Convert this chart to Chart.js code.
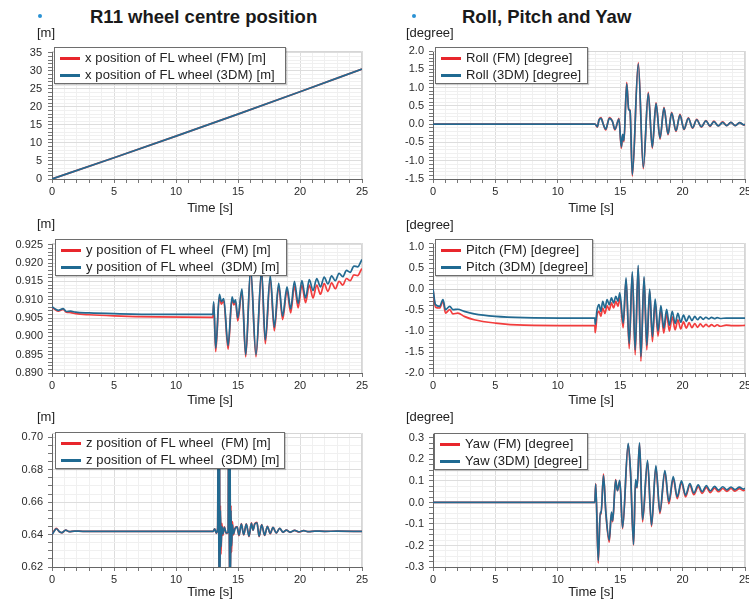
<!DOCTYPE html>
<html>
<head>
<meta charset="utf-8">
<title>R11 wheel centre position</title>
<script src="https://cdn.jsdelivr.net/npm/chart.js"></script>
<style>
  body { margin: 0; background: #fff; font-family: "Liberation Sans", Arial, sans-serif; color: #222; }
  #page { position: relative; width: 749px; height: 603px; overflow: hidden; }
  canvas { position: absolute; }
  .title { position: absolute; top: 6px; line-height: 22px; font-size: 18.5px; font-weight: bold; color: #1a1a1a; white-space: nowrap; }
  .dot { position: absolute; width: 4px; height: 4px; border-radius: 2px; background: #2a92d4; }
  .unit, .time { position: absolute; font-size: 13px; line-height: 16px; white-space: nowrap; color: #222; }
  .time { width: 120px; text-align: center; }
  .legend { position: absolute; box-sizing: border-box; height: 37px; padding: 1px 0; background: #fff; border: 1px solid #6e6e6e; box-shadow: 1px 1px 1px rgba(0,0,0,0.2); font-size: 13px; letter-spacing: 0.1px; color: #222; }
  .legend div { height: 17px; line-height: 17px; white-space: pre; }
  .legend span { display: inline-block; width: 20px; height: 2.5px; margin: 0 5px 0 5px; vertical-align: middle; }
</style>
</head>
<body>
<div id="page">
  <div class="dot" style="left:38px;top:14px"></div>
  <div class="title" style="left:90px">R11 wheel centre position</div>
  <div class="dot" style="left:412px;top:14px"></div>
  <div class="title" style="left:462px">Roll, Pitch and Yaw</div>

  <canvas id="xChart" width="375" height="164" style="left:0;top:39px"></canvas>
  <canvas id="rollChart" width="374" height="164" style="left:375px;top:39px"></canvas>
  <canvas id="yChart" width="375" height="166" style="left:0;top:231px"></canvas>
  <canvas id="pitchChart" width="374" height="166" style="left:375px;top:231px"></canvas>
  <canvas id="zChart" width="375" height="170" style="left:0;top:421px"></canvas>
  <canvas id="yawChart" width="374" height="170" style="left:375px;top:421px"></canvas>

  <div class="unit" style="left:37px;top:25px">[m]</div>
  <div class="unit" style="left:406px;top:25px">[degree]</div>
  <div class="unit" style="left:37px;top:216px">[m]</div>
  <div class="unit" style="left:406px;top:217px">[degree]</div>
  <div class="unit" style="left:37px;top:409px">[m]</div>
  <div class="unit" style="left:406px;top:409px">[degree]</div>

  <div class="time" style="left:150px;top:200px">Time [s]</div>
  <div class="time" style="left:531px;top:200px">Time [s]</div>
  <div class="time" style="left:150px;top:392px">Time [s]</div>
  <div class="time" style="left:531px;top:392px">Time [s]</div>
  <div class="time" style="left:150px;top:584px">Time [s]</div>
  <div class="time" style="left:531px;top:584px">Time [s]</div>

  <div class="legend" id="xLegend" style="left:54px;top:47px;width:232px"></div>
  <div class="legend" id="rollLegend" style="left:435px;top:47px;width:153px"></div>
  <div class="legend" id="yLegend" style="left:55px;top:239px;width:232px"></div>
  <div class="legend" id="pitchLegend" style="left:435px;top:239px;width:158px"></div>
  <div class="legend" id="zLegend" style="left:55px;top:432px;width:230px"></div>
  <div class="legend" id="yawLegend" style="left:434px;top:433px;width:154px"></div>
</div>

<script>
//series names

const xNames = ["x position of FL wheel (FM) [m]", "x position of FL wheel (3DM) [m]"];
const yNames = ["y position of FL wheel  (FM) [m]", "y position of FL wheel  (3DM) [m]"];
const zNames = ["z position of FL wheel  (FM) [m]", "z position of FL wheel  (3DM) [m]"];
const rollNames = ["Roll (FM) [degree]", "Roll (3DM) [degree]"];
const pitchNames = ["Pitch (FM) [degree]", "Pitch (3DM) [degree]"];
const yawNames = ["Yaw (FM) [degree]", "Yaw (3DM) [degree]"];

//x position of FL wheel

const xTime = [0, 5, 10, 15, 20, 25];
const xFM = [0, 5.9, 11.9, 18.0, 24.2, 30.5];
const x3DM = [0, 5.9, 11.9, 18.0, 24.2, 30.5];

//y position of FL wheel

const yTime = [0, 0.3, 0.5, 0.9, 1.15, 1.5, 1.9, 3, 5, 8.5, 12.98,
  13.04, 13.2, 13.5, 13.66, 13.85, 14.2, 14.52, 14.66, 14.8, 14.98,
  15.32, 15.62, 16.02, 16.45, 16.9, 17.2, 17.6, 17.93, 18.28, 18.6,
  18.95, 19.25, 19.55, 19.85, 20.15, 20.45, 20.75, 21.05, 21.35, 21.65,
  21.95, 22.25, 22.55, 22.85, 23.15, 23.45, 23.75, 24.05, 24.35, 24.65,
  24.95, 25];
const yFM = [0.9080, 0.9072, 0.9069, 0.9074, 0.9066, 0.9065, 0.9062, 0.9059, 0.9056, 0.9053, 0.9052,
  0.9090, 0.8958, 0.9108, 0.9088, 0.9097, 0.8965, 0.9102, 0.9086, 0.9094, 0.9042,
  0.9124, 0.8944, 0.9180, 0.8944, 0.9174, 0.8980, 0.9158, 0.9015, 0.9137, 0.9046,
  0.9126, 0.9064, 0.9138, 0.9078, 0.9140, 0.9092, 0.9140, 0.9105, 0.9140, 0.9115,
  0.9144, 0.9123, 0.9146, 0.9130, 0.9150, 0.9140, 0.9158, 0.9152, 0.9168, 0.9166,
  0.9183, 0.9185];
const y3DM = [0.9081, 0.9074, 0.9071, 0.9076, 0.9068, 0.9069, 0.9066, 0.9064, 0.9062, 0.9060, 0.9060,
  0.9094, 0.8968, 0.9115, 0.9095, 0.9103, 0.8975, 0.9108, 0.9092, 0.9100, 0.9050,
  0.9130, 0.8950, 0.9185, 0.8950, 0.9180, 0.8990, 0.9165, 0.9025, 0.9145, 0.9055,
  0.9135, 0.9075, 0.9150, 0.9090, 0.9152, 0.9105, 0.9155, 0.9125, 0.9158, 0.9135,
  0.9162, 0.9143, 0.9165, 0.9152, 0.9172, 0.9163, 0.9180, 0.9175, 0.9192, 0.9190,
  0.9207, 0.9210];

//z position of FL wheel

const zTime = [0, 0.15, 0.35, 0.6, 0.8, 1.1, 1.4, 1.8, 2.5,
  13.0, 13.12, 13.25, 13.36, 13.42, 13.46, 13.50, 13.54, 13.58, 13.63, 13.70, 13.78,
  13.9, 14.05, 14.2, 14.27, 14.31, 14.35, 14.39, 14.43, 14.48, 14.55, 14.63,
  14.75, 14.92, 15.08, 15.27, 15.46, 15.67, 15.89, 16.08, 16.21, 16.35,
  16.53, 16.7, 16.91, 17.15, 17.37, 17.6, 17.82, 18.09, 18.36, 18.63,
  18.9, 19.2, 19.57, 19.9, 20.3, 20.7, 21.2, 22, 23, 25];
const zFM = [0.6400, 0.6420, 0.6438, 0.6417, 0.6411, 0.6428, 0.6418, 0.6422, 0.6420,
  0.6420, 0.6436, 0.6408, 0.6442, 0.7500, 0.6050, 0.7100, 0.6150, 0.6580, 0.6280, 0.6470, 0.6395,
  0.6448, 0.6408, 0.6415, 0.7500, 0.6050, 0.7100, 0.6150, 0.6580, 0.6290, 0.6480, 0.6398,
  0.6438, 0.6450, 0.6394, 0.6468, 0.6398, 0.6467, 0.6388, 0.6472, 0.6427, 0.6467,
  0.6476, 0.6388, 0.6461, 0.6395, 0.6451, 0.6405, 0.6445, 0.6409, 0.6439, 0.6414,
  0.6428, 0.6414, 0.6426, 0.6416, 0.6424, 0.6418, 0.6422, 0.6420, 0.6421, 0.6420];
const z3DM = [0.6400, 0.6418, 0.6436, 0.6418, 0.6412, 0.6428, 0.6418, 0.6422, 0.6420,
  0.6420, 0.6435, 0.6410, 0.6440, 0.7600, 0.6000, 0.7200, 0.6100, 0.6550, 0.6325, 0.6450, 0.6405,
  0.6445, 0.6410, 0.6415, 0.7600, 0.6000, 0.7200, 0.6100, 0.6550, 0.6330, 0.6460, 0.6405,
  0.6435, 0.6448, 0.6397, 0.6465, 0.6400, 0.6465, 0.6390, 0.6470, 0.6428, 0.6465,
  0.6473, 0.6390, 0.6460, 0.6397, 0.6450, 0.6407, 0.6444, 0.6410, 0.6438, 0.6415,
  0.6428, 0.6415, 0.6426, 0.6417, 0.6424, 0.6418, 0.6422, 0.6420, 0.6421, 0.6420];

//Roll

const rollTime = [0, 12.98, 13.17, 13.30, 13.46, 13.65, 13.84, 14.13, 14.37, 14.58,
  14.90, 15.09, 15.20, 15.30, 15.52, 15.68, 15.79, 15.97, 16.45, 16.85,
  17.25, 17.57, 17.87, 18.19, 18.51, 18.83, 19.12, 19.47, 19.79, 20.11,
  20.46, 20.80, 21.13, 21.50, 21.87, 22.19, 22.51, 22.86, 23.21, 23.53,
  23.87, 24.22, 24.57, 24.92, 25];
const rollFM = [0, 0, -0.08, 0.12, 0.18, -0.01, -0.16, 0.18, 0.08, -0.16,
  0.16, -0.66, -0.29, -0.48, 1.14, 0.41, 0.37, -1.42, 1.68, -1.22,
  0.87, -0.66, 0.58, -0.41, 0.46, -0.29, 0.32, -0.20, 0.27, -0.15,
  0.17, -0.11, 0.13, -0.08, 0.10, -0.06, 0.08, -0.05, 0.06, -0.04,
  0.05, -0.04, 0.04, -0.03, 0];
const roll3DM = [0, 0, -0.07, 0.11, 0.16, -0.01, -0.14, 0.16, 0.08, -0.14,
  0.14, -0.62, -0.28, -0.45, 1.10, 0.40, 0.36, -1.38, 1.65, -1.18,
  0.84, -0.63, 0.56, -0.38, 0.44, -0.27, 0.30, -0.18, 0.25, -0.14,
  0.16, -0.10, 0.12, -0.07, 0.09, -0.05, 0.07, -0.05, 0.05, -0.04,
  0.05, -0.04, 0.04, -0.02, 0];

//Pitch

const pitchTime = [0, 0.2, 0.53, 0.8, 1.0, 1.34, 1.6, 2.0, 2.5, 3.3, 5, 7.3, 11.4, 12.97,
  13.0, 13.15, 13.3, 13.45, 13.6, 13.78, 13.95, 14.12, 14.3, 14.47, 14.65, 14.82, 14.97,
  15.24, 15.47, 15.72, 15.97, 16.2, 16.44, 16.66, 16.91, 17.13, 17.36,
  17.58, 17.8, 18.03, 18.26, 18.49, 18.72, 18.94, 19.17, 19.4, 19.62,
  19.85, 20.07, 20.3, 20.52, 20.75, 20.97, 21.2, 21.42, 21.65, 21.87,
  22.1, 22.32, 22.55, 22.77, 23.0, 23.5, 24, 24.5, 25];
const pitchFM = [0, -0.43, -0.45, -0.29, -0.57, -0.49, -0.59, -0.57, -0.65, -0.73, -0.81, -0.86, -0.87, -0.87,
  -1.04, -0.61, -0.53, -0.65, -0.45, -0.58, -0.39, -0.50, -0.33, -0.45, -0.29, -0.41, -0.21,
  -0.92, 0.23, -1.42, 0.37, -1.57, 0.52, -1.72, 0.26, -1.45, -0.05,
  -1.25, -0.31, -1.12, -0.48, -1.05, -0.59, -1.0, -0.66, -0.97, -0.73,
  -0.95, -0.78, -0.93, -0.80, -0.92, -0.82, -0.91, -0.83, -0.90, -0.84,
  -0.895, -0.845, -0.89, -0.85, -0.885, -0.86, -0.87, -0.87, -0.865];
const pitch3DM = [0, -0.37, -0.41, -0.25, -0.49, -0.41, -0.49, -0.48, -0.53, -0.59, -0.65, -0.68, -0.69, -0.69,
  -0.84, -0.49, -0.37, -0.53, -0.29, -0.45, -0.25, -0.37, -0.21, -0.33, -0.17, -0.29, -0.09,
  -0.81, 0.27, -1.30, 0.41, -1.45, 0.57, -1.61, 0.30, -1.34, 0.0,
  -1.13, -0.24, -1.0, -0.39, -0.93, -0.48, -0.86, -0.53, -0.82, -0.58,
  -0.79, -0.62, -0.77, -0.64, -0.75, -0.65, -0.73, -0.66, -0.72, -0.67,
  -0.71, -0.675, -0.705, -0.68, -0.70, -0.69, -0.69, -0.69, -0.69];

//Yaw

const yawTime = [0, 12.97, 13.04, 13.24, 13.40, 13.47, 13.66, 13.85, 14.12, 14.30,
  14.40, 14.63, 14.78, 14.97, 15.19, 15.64, 15.83, 16.07, 16.23, 16.35,
  16.55, 16.79, 17.19, 17.51, 17.86, 18.18, 18.58, 18.90, 19.25, 19.57,
  19.91, 20.24, 20.58, 20.90, 21.25, 21.57, 21.90, 22.22, 22.56, 22.88,
  23.22, 23.55, 23.88, 24.20, 24.55, 24.87, 25];
const yawFM = [0, 0, 0.088, -0.282, -0.048, -0.055, 0.132, -0.050, -0.185, -0.050,
  -0.090, 0.106, 0.055, 0.100, -0.122, 0.270, 0.135, -0.198, 0.100, 0.068,
  0.272, -0.090, 0.188, -0.112, 0.165, -0.052, 0.140, -0.006, 0.112, 0.018,
  0.093, 0.026, 0.080, 0.036, 0.074, 0.042, 0.070, 0.046, 0.067, 0.050,
  0.065, 0.052, 0.065, 0.053, 0.064, 0.055, 0.058];
const yaw3DM = [0, 0, 0.085, -0.270, -0.045, -0.050, 0.125, -0.045, -0.175, -0.045,
  -0.085, 0.103, 0.055, 0.103, -0.117, 0.275, 0.140, -0.195, 0.106, 0.070,
  0.277, -0.080, 0.196, -0.105, 0.172, -0.044, 0.148, 0.003, 0.120, 0.026,
  0.100, 0.034, 0.088, 0.044, 0.082, 0.050, 0.078, 0.054, 0.075, 0.057,
  0.073, 0.059, 0.072, 0.060, 0.071, 0.062, 0.066];

//styles

const fontFamily = '"Liberation Sans", Arial, sans-serif';
const redLine = "#f23d3d";
const blueLine = "#236a91";

//helpers

function buildTicks(min, max, step) {
  let list = [];
  let first = Math.ceil(min / step - 1e-9);
  for (let i = first; i * step <= max + 1e-9; i++) {
    list.push({ value: Math.round(i * step * 1e6) / 1e6 });
  }
  return list;
}

function isMajor(value, major) {
  let r = value / major;
  return Math.abs(r - Math.round(r)) < 1e-6;
}

function toPoints(times, values) {
  return times.map((t, i) => ({ x: t, y: values[i] }));
}

function gridColor(context, major) {
  if (!context.tick) return "#eeeeee";
  let v = context.tick.value;
  if (Math.abs(v) < 1e-9) return "#c9c9c9";
  return isMajor(v, major) ? "#dddddd" : "#f0f0f0";
}

function fillLegend(id, names) {
  let box = document.getElementById(id);
  let colors = ["#e8262c", "#1f6a92"];
  box.innerHTML = names
    .map((n, i) => '<div><span style="background:' + colors[i] + '"></span>' + n + "</div>")
    .join("");
}

//top and right edges of the plot frame

const frameEdges = {
  id: "frameEdges",
  beforeDatasetsDraw(chart) {
    const a = chart.chartArea;
    const ctx = chart.ctx;
    ctx.save();
    ctx.strokeStyle = "#d6d6d6";
    ctx.lineWidth = 1;
    ctx.beginPath();
    ctx.moveTo(a.left, a.top + 0.5);
    ctx.lineTo(a.right - 0.5, a.top + 0.5);
    ctx.lineTo(a.right - 0.5, a.bottom);
    ctx.stroke();
    ctx.restore();
  },
};

//Render Charts

function renderChart(canvasId, times, fmValues, dmValues, names, axis, yWidth, padRight, labelPad) {
  new Chart(document.getElementById(canvasId), {
    type: "line",
    data: {
      datasets: [
        { label: names[0], data: toPoints(times, fmValues), borderColor: redLine, order: 1 },
        { label: names[1], data: toPoints(times, dmValues), borderColor: blueLine, order: 0 },
      ],
    },
    options: {
      responsive: false,
      animation: false,
      layout: { padding: { top: 12, right: padRight, left: 0, bottom: 0 } },
      elements: {
        point: { radius: 0 },
        line: { borderWidth: 1.7, cubicInterpolationMode: "monotone" },
      },
      plugins: { legend: { display: false }, tooltip: { enabled: false } },
      scales: {
        x: {
          type: "linear",
          min: 0,
          max: 25,
          afterBuildTicks: (scale) => {
            scale.ticks = buildTicks(0, 25, 1);
          },
          afterFit: (scale) => {
            scale.height = 24;
            scale.paddingLeft = 0;
            scale.paddingRight = 0;
          },
          ticks: {
            autoSkip: false,
            maxRotation: 0,
            minRotation: 0,
            padding: 2,
            color: "#2a2a2a",
            font: { family: fontFamily, size: 11 },
            callback: (v) => (isMajor(v, 5) ? String(Math.round(v)) : ""),
          },
          grid: { z: -1, color: (c) => gridColor(c, 5), tickColor: "#777", tickLength: 4 },
          border: { color: "#666" },
        },
        y: {
          type: "linear",
          min: axis.min,
          max: axis.max,
          afterBuildTicks: (scale) => {
            scale.ticks = buildTicks(axis.min, axis.max, axis.minor);
          },
          afterFit: (scale) => {
            scale.width = yWidth;
            scale.paddingTop = 0;
            scale.paddingBottom = 0;
          },
          ticks: {
            autoSkip: false,
            padding: labelPad,
            color: "#2a2a2a",
            font: { family: fontFamily, size: 11 },
            callback: (v) => (isMajor(v, axis.major) ? v.toFixed(axis.decimals) : ""),
          },
          grid: { z: -1, color: (c) => gridColor(c, axis.major), tickColor: "#777", tickLength: 4 },
          border: { color: "#666" },
        },
      },
    },
    plugins: [frameEdges],
  });
}

renderChart("xChart", xTime, xFM, x3DM, xNames,
  { min: 0, max: 35.5, major: 5, minor: 1, decimals: 0 }, 52, 13, 6);
renderChart("rollChart", rollTime, rollFM, roll3DM, rollNames,
  { min: -1.5, max: 2.0, major: 0.5, minor: 0.1, decimals: 1 }, 58, 4, 5);
renderChart("yChart", yTime, yFM, y3DM, yNames,
  { min: 0.89, max: 0.9255, major: 0.005, minor: 0.001, decimals: 3 }, 52, 13, 5);
renderChart("pitchChart", pitchTime, pitchFM, pitch3DM, pitchNames,
  { min: -2.0, max: 1.1, major: 0.5, minor: 0.1, decimals: 1 }, 58, 4, 5);
renderChart("zChart", zTime, zFM, z3DM, zNames,
  { min: 0.62, max: 0.7027, major: 0.02, minor: 0.005, decimals: 2 }, 52, 13, 5);
renderChart("yawChart", yawTime, yawFM, yaw3DM, yawNames,
  { min: -0.3, max: 0.323, major: 0.1, minor: 0.025, decimals: 1 }, 58, 4, 5);

fillLegend("xLegend", xNames);
fillLegend("rollLegend", rollNames);
fillLegend("yLegend", yNames);
fillLegend("pitchLegend", pitchNames);
fillLegend("zLegend", zNames);
fillLegend("yawLegend", yawNames);
</script>
</body>
</html>
